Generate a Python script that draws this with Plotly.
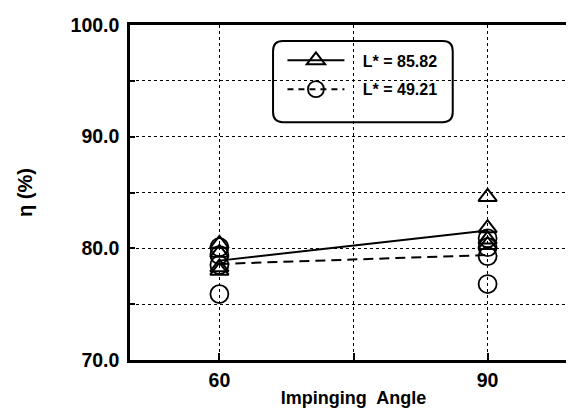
import plotly.graph_objects as go

# ---- data ----
angles = [60, 90]
series_names = ["L* = 85.82", "L* = 49.21"]
tri_60 = [80.4, 79.6, 78.3, 78.0]
tri_90 = [84.6, 81.8, 80.8, 80.3]
circ_60 = [80.1, 79.4, 78.5, 75.9]
circ_90 = [80.9, 80.1, 79.3, 76.8]
mean_high = [78.9, 81.6]
mean_low = [78.6, 79.4]
x_tickvals = [60, 75, 90]
x_ticktext = ["60", "", "90"]
y_tickvals = [70, 75, 80, 85, 90, 95, 100]
y_ticktext = ["70.0", "", "80.0", "", "90.0", "", "100.0"]

FONT = "Liberation Sans, Arial, sans-serif"
BLACK = "black"
GAP = "\u00a0\u00a0\u00a0"

fig = go.Figure()

# mean lines
fig.add_trace(go.Scatter(x=angles, y=mean_high, mode="lines",
                         line=dict(color=BLACK, width=2), showlegend=False))
fig.add_trace(go.Scatter(x=angles, y=mean_low, mode="lines",
                         line=dict(color=BLACK, width=2, dash="10px,6px"),
                         showlegend=False))

# individual points
fig.add_trace(go.Scatter(
    x=[angles[0]] * len(tri_60) + [angles[1]] * len(tri_90),
    y=tri_60 + tri_90, mode="markers",
    marker=dict(symbol="triangle-up-open", size=16, color=BLACK,
                line=dict(width=2, color=BLACK)),
    showlegend=False))
fig.add_trace(go.Scatter(
    x=[angles[0]] * len(circ_60) + [angles[1]] * len(circ_90),
    y=circ_60 + circ_90, mode="markers",
    marker=dict(symbol="circle-open", size=18, color=BLACK,
                line=dict(width=1.8, color=BLACK)),
    showlegend=False))

# legend entries
fig.add_trace(go.Scatter(x=[None], y=[None], mode="lines+markers",
                         name=GAP + series_names[0], legendgroup="a",
                         line=dict(color=BLACK, width=2),
                         marker=dict(symbol="triangle-up-open", size=16, color=BLACK,
                                     line=dict(width=2, color=BLACK))))
fig.add_trace(go.Scatter(x=[None], y=[None], mode="lines+markers",
                         name=GAP + series_names[1], legendgroup="b",
                         line=dict(color=BLACK, width=2, dash="6px,5px"),
                         marker=dict(symbol="circle-open", size=16, color=BLACK,
                                     line=dict(width=1.8, color=BLACK))))

# rounded legend frame
def rounded_rect(x0, y0, x1, y1, rx, ry):
    return (f"M {x0+rx},{y0} L {x1-rx},{y0} Q {x1},{y0} {x1},{y0+ry} "
            f"L {x1},{y1-ry} Q {x1},{y1} {x1-rx},{y1} L {x0+rx},{y1} "
            f"Q {x0},{y1} {x0},{y1-ry} L {x0},{y0+ry} Q {x0},{y0} {x0+rx},{y0} Z")

fig.add_shape(type="path", xref="paper", yref="paper",
              path=rounded_rect(0.32, 0.710, 0.722, 0.952, 0.022, 0.03),
              line=dict(color=BLACK, width=2))

fig.update_layout(
    width=574, height=412,
    margin=dict(l=122, r=2, t=17, b=60),
    paper_bgcolor="white", plot_bgcolor="white",
    font=dict(family=FONT, color=BLACK, size=19.5, weight="bold"),
    showlegend=True,
    legend=dict(x=0.341, y=0.945, xanchor="left", yanchor="top",
                bgcolor="rgba(0,0,0,0)", borderwidth=0,
                font=dict(size=16, family=FONT, weight="bold"),
                tracegroupgap=5, itemwidth=57),
)

fig.update_xaxes(range=[50, 100], tickvals=x_tickvals, ticktext=x_ticktext,
                 showgrid=True, gridcolor=BLACK, gridwidth=1, griddash="dot",
                 showline=True, linecolor=BLACK, linewidth=2.5, mirror=True,
                 ticks="inside", ticklen=7, tickwidth=2, tickcolor=BLACK,
                 zeroline=False, ticklabelstandoff=1,
                 tickfont=dict(size=19.5, family=FONT, weight="bold"),
                 title=dict(text="Impinging  Angle", standoff=2,
                            font=dict(size=18, family=FONT, weight="bold")))
fig.update_yaxes(range=[70, 100], tickvals=y_tickvals, ticktext=y_ticktext,
                 showgrid=True, gridcolor=BLACK, gridwidth=1, griddash="dot",
                 showline=True, linecolor=BLACK, linewidth=2.5, mirror=True,
                 ticks="inside", ticklen=5, tickwidth=2, tickcolor=BLACK,
                 zeroline=False, ticklabelstandoff=4,
                 tickfont=dict(size=19.5, family=FONT, weight="bold"),
                 title=dict(text="η (%)", standoff=33,
                            font=dict(size=20, family=FONT, weight="bold")))

fig.write_html("out.html")
